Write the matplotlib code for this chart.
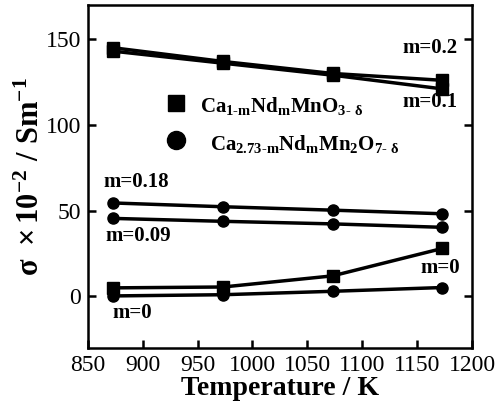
import matplotlib
matplotlib.use("Agg")
import matplotlib.pyplot as plt

plt.rcParams['font.family'] = ['Liberation Serif']
plt.rcParams['mathtext.fontset'] = 'custom'
plt.rcParams['mathtext.rm'] = 'Liberation Serif:bold'
plt.rcParams['mathtext.it'] = 'Liberation Serif:bold'
plt.rcParams['mathtext.bf'] = 'Liberation Serif:bold'

# temperatures (K)
temps = [873, 973, 1073, 1173]

# Ca(1-m)Nd(m)MnO(3-d)  -- squares
perov_m02 = [145, 137, 130, 126]
perov_m01 = [143, 136, 129, 121]
perov_m0 = [5, 5.5, 12, 28]

# Ca(2.73-m)Nd(m)Mn2O(7-d)  -- circles
rp_m018 = [54.5, 52.3, 50.3, 48.2]
rp_m009 = [45.5, 43.8, 42.3, 40.3]
rp_m0 = [0.3, 1.0, 3.0, 5.2]

xticks = [850, 900, 950, 1000, 1050, 1100, 1150, 1200]
yticks = [0, 50, 100, 150]

fig = plt.figure(figsize=(4.99, 4.05), dpi=100)
ax = fig.add_axes([0.176, 0.141, 0.770, 0.847])

for ys in (perov_m02, perov_m01, perov_m0):
    ax.plot(temps, ys, '-', color='black', lw=2.5, marker='s', ms=9)
for ys in (rp_m018, rp_m009, rp_m0):
    ax.plot(temps, ys, '-', color='black', lw=2.5, marker='o', ms=8)

ax.set_xlim(850, 1200)
ax.set_ylim(-30, 170)
ax.set_xticks(xticks)
ax.set_yticks(yticks)
ax.tick_params(direction='in', length=6, width=1.8, labelsize=17,
               right=True, top=False, pad=5, labelfontfamily='Liberation Serif')
for s in ax.spines.values():
    s.set_linewidth(1.8)

ax.set_xlabel('Temperature / K', fontsize=20, fontweight='bold', labelpad=0)
ax.set_ylabel(r'$\sigma\ \times 10^{-2}\ /\ \mathrm{Sm}^{-1}$', fontsize=22, labelpad=0)

lab = dict(fontsize=15, fontweight='bold')
ax.text(1187, 145, 'm=0.2', ha='right', va='center', **lab)
ax.text(1187, 113.5, 'm=0.1', ha='right', va='center', **lab)
ax.text(864, 67, 'm=0.18', ha='left', va='center', **lab)
ax.text(866, 35, 'm=0.09', ha='left', va='center', **lab)
ax.text(1189, 16.5, 'm=0', ha='right', va='center', **lab)
ax.text(872, -9.5, 'm=0', ha='left', va='center', **lab)

# legend drawn by hand as markers and formula text
ax.plot([930], [112.5], 's', color='black', ms=12)
ax.plot([930], [91], 'o', color='black', ms=13)
ax.text(952, 111, r'Ca$_{1\text{-}m}$Nd$_m$MnO$_{3\text{-}\ \delta}$',
        ha='left', va='center', fontsize=15, fontweight='bold')
ax.text(961, 89, r'Ca$_{2.73\text{-}m}$Nd$_m$Mn$_2$O$_{7\text{-}\ \delta}$',
        ha='left', va='center', fontsize=15, fontweight='bold')

fig.savefig('out.png', dpi=100)
